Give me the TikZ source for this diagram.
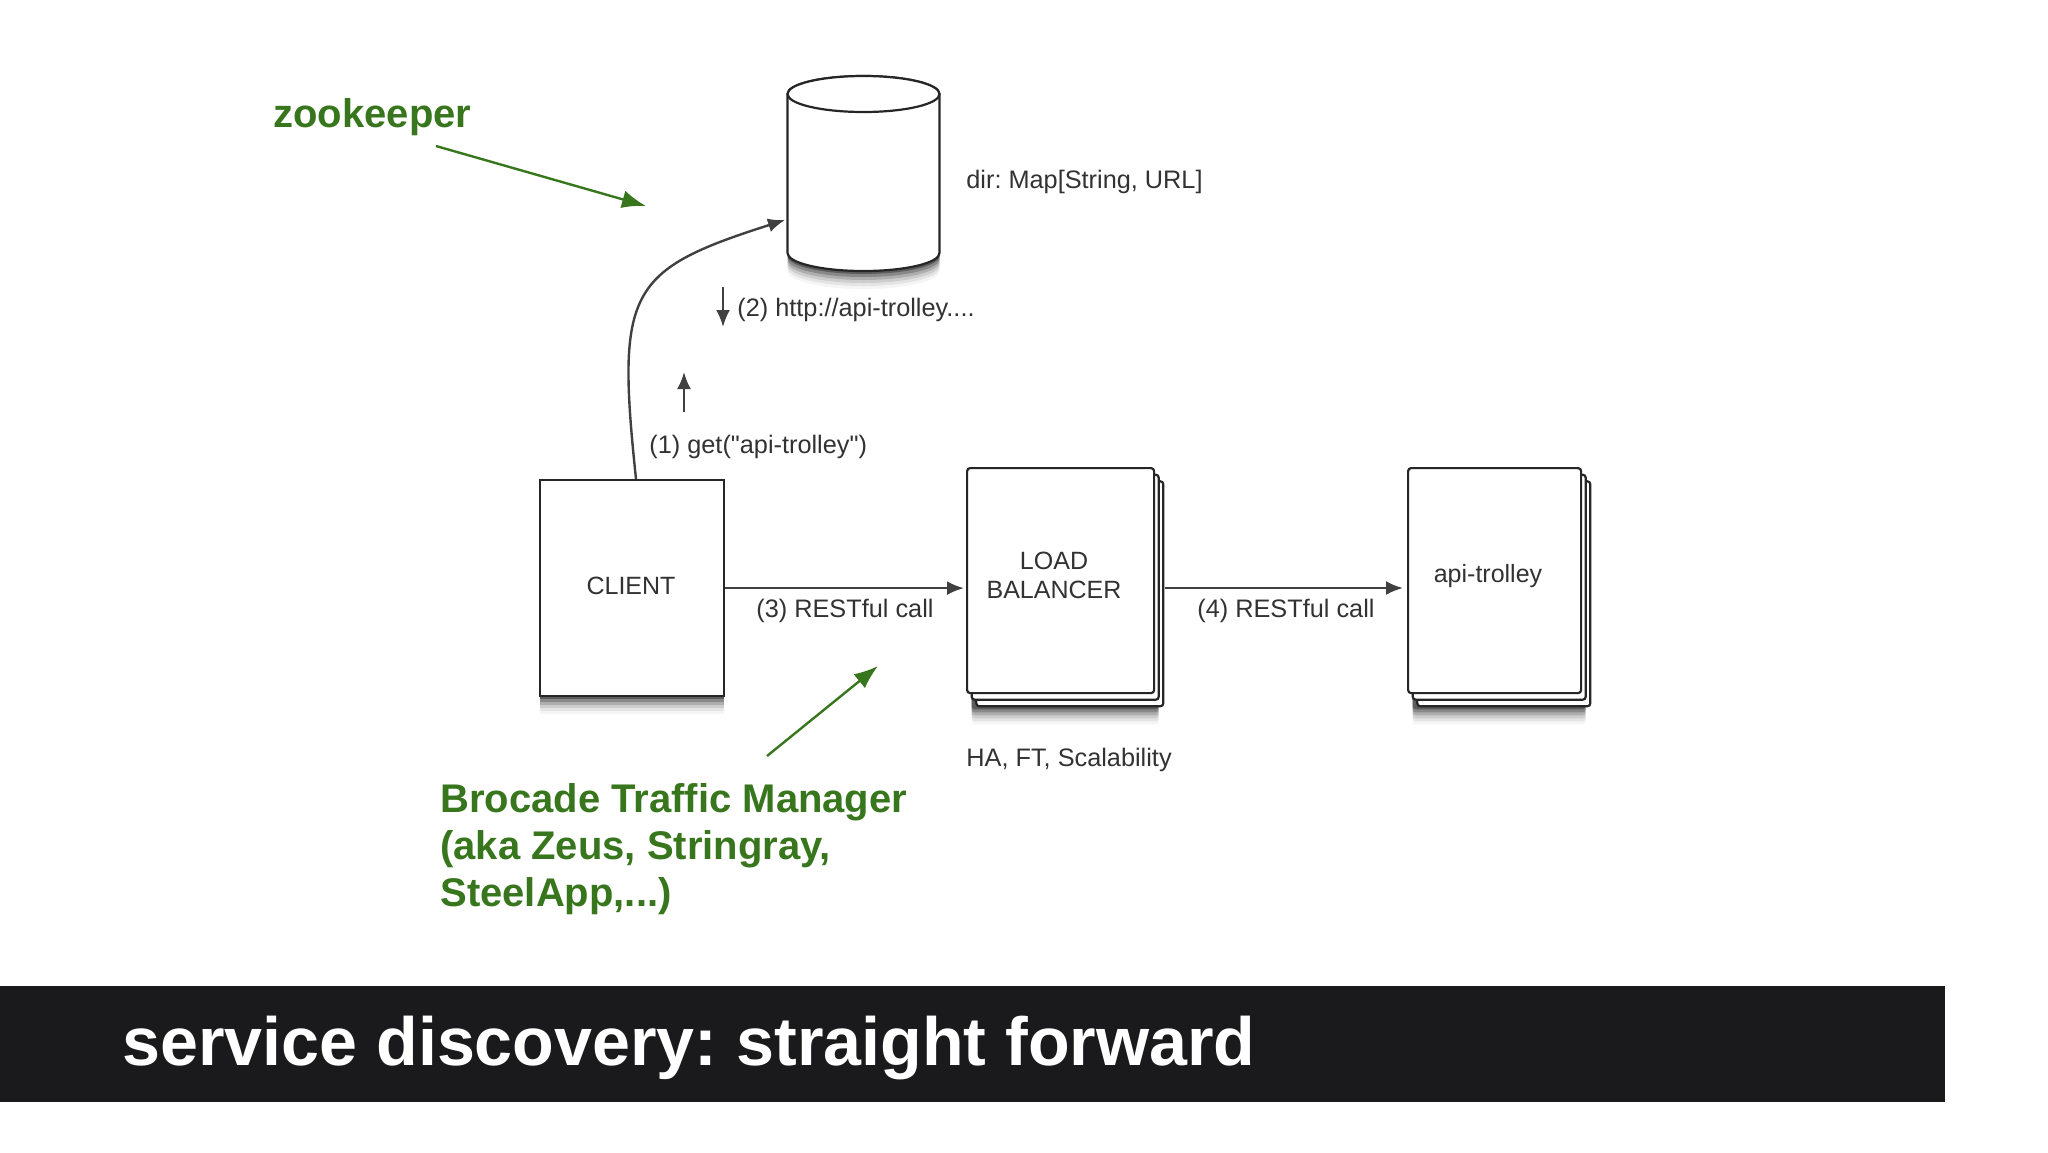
\documentclass[tikz,border=0pt]{standalone}
\usepackage{fontspec}
\setmainfont[Ligatures=TeXOff]{Liberation Sans}
\frenchspacing
\usetikzlibrary{arrows.meta}
\usetikzlibrary{shadows}
\definecolor{notegreen}{RGB}{56,118,29}
\definecolor{bandblack}{RGB}{26,26,28}
\definecolor{inkgray}{RGB}{50,50,50}
\newcommand{\widthclient}{92pt}
\newcommand{\heightclient}{108pt}
\newcommand{\widthstack}{93.5pt}
\newcommand{\widthservice}{86.5pt}
\newcommand{\heightstack}{112.5pt}
\tikzset{
    softshadow/.style={
        general shadow={shadow xshift=2.3pt, shadow yshift=-#1-9pt, fill=black, opacity=0.04},
        general shadow={shadow xshift=2.3pt, shadow yshift=-#1-7.5pt, fill=black, opacity=0.07},
        general shadow={shadow xshift=2.3pt, shadow yshift=-#1-6pt, fill=black, opacity=0.10},
        general shadow={shadow xshift=2.3pt, shadow yshift=-#1-4.5pt, fill=black, opacity=0.15},
        general shadow={shadow xshift=2.3pt, shadow yshift=-#1-3pt, fill=black, opacity=0.22},
        general shadow={shadow xshift=2.3pt, shadow yshift=-#1-1.5pt, fill=black, opacity=0.32},
    },
    flatshadow/.style={
        general shadow={shadow yshift=-9pt, fill=black, opacity=0.04},
        general shadow={shadow yshift=-7.5pt, fill=black, opacity=0.07},
        general shadow={shadow yshift=-6pt, fill=black, opacity=0.10},
        general shadow={shadow yshift=-4.5pt, fill=black, opacity=0.15},
        general shadow={shadow yshift=-3pt, fill=black, opacity=0.22},
        general shadow={shadow yshift=-1.5pt, fill=black, opacity=0.32},
    },
    common/.style={anchor=north west, draw=black!85, line width=1.1pt, fill=white, inner sep=0pt},
    clientbox/.style={common, flatshadow, minimum width=\widthclient, minimum height=\heightclient},
    stackbox/.style={common, softshadow=6.6pt, rounded corners=1.5pt, minimum height=\heightstack,
        double copy shadow={shadow xshift=2.3pt, shadow yshift=-3.3pt, fill=white, draw=black!85, line width=1.1pt}},
    store/.style={draw=black!85, line width=1.1pt, fill=white},
    note/.style={anchor=west, inner sep=0pt, text=inkgray, font=\fontsize{12.65}{14}\selectfont},
    boxtext/.style={text=inkgray, align=center, font=\fontsize{12.5}{14.5}\selectfont, inner sep=0pt},
    callout/.style={anchor=west, inner sep=0pt, text=notegreen, align=left, font=\bfseries\fontsize{20}{23.5}\selectfont},
    flow/.style={-{Latex[length=8.5pt, width=7pt]}, draw=black!75, line width=1.2pt},
    pointer/.style={-{Latex[length=12pt, width=9pt]}, notegreen, line width=1.2pt},
}
\begin{document}
\begin{tikzpicture}[x=0.5pt, y=-0.5pt]
    \useasboundingbox (0,0) rectangle (2048,1152);

    \path
        (0,986) coordinate (band-nw)
        (1945,1102) coordinate (band-se);
    \fill[bandblack] (band-nw) rectangle (band-se);
    \node[anchor=west, inner sep=0pt, text=white, font=\bfseries\fontsize{34.1}{38}\selectfont] (title) at (122,1048) {service discovery: straight forward};

    % boxes
    \path
        (539,479) node[clientbox] (client) {}
        (966,467) node[stackbox, minimum width=\widthstack] (balancer) {}
        (1407,467) node[stackbox, minimum width=\widthservice] (service) {};

    % database
    \path
        (787.5,94) coordinate (dir-top-left)
        (863.5,94) coordinate (dir-top);
    \draw[store, flatshadow]
        (dir-top-left) arc[start angle=180, end angle=0, x radius=38pt, y radius=9pt]
        -- ++(0,159) arc[start angle=360, end angle=180, x radius=38pt, y radius=9pt] -- cycle;
    \draw[store] (dir-top) ellipse[x radius=38pt, y radius=9pt];

    \node[boxtext] (client-text) at (631,586) {CLIENT};
    \node[boxtext] (balancer-text) at (1054,575) {LOAD\\BALANCER};
    \node[boxtext] (service-text) at (1488,576) {api-trolley};

    \node[note] (dir-text) at (966,182) {dir: Map[String, URL]};
    \node[note] (lookup-text) at (737,310) {(2) http://api-trolley....};
    \node[note] (get-text) at (649,447) {(1) get("api-trolley")};
    \node[note] (call-three) at (756,611) {(3) RESTful call};
    \node[note] (call-four) at (1197,611) {(4) RESTful call};
    \node[note] (scale-text) at (966,760) {HA, FT, Scalability};

    \node[callout] (zk-text) at (273,117) {zookeeper};
    \node[callout] (lb-text) at (440,849) {Brocade Traffic Manager\\(aka Zeus, Stringray,\\SteelApp,...)};

    % free ends
    \path
        (636,479) coordinate (client-top)
        (785,220) coordinate (dir-left)
        (684,412) coordinate (up-from)
        (684,372) coordinate (up-to)
        (723,287) coordinate (down-from)
        (723,327) coordinate (down-to)
        (1165,588) coordinate (stack-edge)
        (436,146) coordinate (zk-from)
        (646,206) coordinate (zk-to)
        (767,756) coordinate (lb-from)
        (878,666) coordinate (lb-to);

    \draw[flow] (client-top) .. controls (616,290) and (628,270) .. (dir-left);
    \draw[flow] (up-from) -- (up-to);
    \draw[flow] (down-from) -- (down-to);
    \draw[flow, shorten >=1pt] (client.east) -- (balancer.west |- client.east);
    \draw[flow, shorten >=2pt] (stack-edge) -- (service.west |- stack-edge);

    \draw[pointer] (zk-from) -- (zk-to);
    \draw[pointer] (lb-from) -- (lb-to);
\end{tikzpicture}
\end{document}
